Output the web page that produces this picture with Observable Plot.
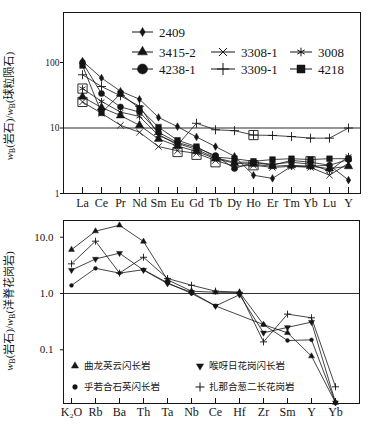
<!DOCTYPE html>
<html><head><meta charset="utf-8">
<script src="https://cdn.jsdelivr.net/npm/d3@7"></script>
<script src="https://cdn.jsdelivr.net/npm/@observablehq/plot@0.6"></script>
<style>
html,body{margin:0;padding:0;background:#fff}
#c{width:377px;height:432px}
#c svg{display:block}
</style>
</head><body><div id="c"></div>
<script>
// ---------- Data: REE chondrite-normalised (top panel) ----------
const reeElements = ["La","Ce","Pr","Nd","Sm","Eu","Gd","Tb","Dy","Ho","Er","Tm","Yb","Lu","Y"];
const reeSeries = ["2409","3415-2","3308-1","3008","4238-1","3309-1","4218"];
const ree2409   = [105, 58, 36.5, 27.5, 14.5, 10.5, 7.3, 5.2, 3.7, 1.9, 1.7, 2.6, 2.6, 2.7, 1.6];
const ree3415_2 = [30, 20.5, 15.5, 11, 6.8, 5.3, 4.4, 3.4, 2.9, 2.8, 2.6, 2.7, 2.6, 2.4, 2.6];
const ree3308_1 = [25, 16.8, 11, 8.6, 5.2, 4.5, 4.1, 3.2, 2.6, 2.7, 2.5, 2.6, 2.5, 1.9, 2.9];
const ree3008   = [40, 25.5, 17.5, 15, 7.7, 5.8, 4.7, 3.5, 3.0, 3.0, 2.8, 3.0, 2.8, 2.2, 3.7];
const ree4238_1 = [100, 33.5, 21, 17.5, 8.6, 6.0, 5.0, 3.8, 2.4, 3.0, 2.7, 3.2, 3.0, 2.7, 3.3];
const ree3309_1 = [65, 43, 31, 21.5, 8.0, 5.5, 11.8, 9.4, 9.1, 7.8, 7.7, 7.4, 7.0, 7.0, 10];
const ree4218   = [90, 17, 33.5, 20, 10.3, 6.5, 5.2, 3.6, 3.4, 3.1, 3.3, 3.4, 3.3, 3.4, 3.4];
const boxedElements = ["La","La","Eu","Gd","Tb","Ho","Ho","Yb"];
const boxedValues   = [40, 25, 4.3, 3.9, 3.0, 7.8, 2.7, 3.1];
const reeTicks = [1, 10, 100];
const reeRefLine = [10];

// ---------- Data: ORG-normalised (bottom panel) ----------
const orgElements = ["K₂O","Rb","Ba","Th","Ta","Nb","Ce","Hf","Zr","Sm","Y","Yb"];
const orgSeries = ["曲龙英云闪长岩","喉呀日花岗闪长岩","乎若合石英闪长岩","扎那合葱二长花岗岩"];
const orgQulong  = [6.0, 12.8, 16.3, 8.4, 1.75, 1.1, 1.05, 1.05, 0.28, 0.2, 0.077, 0.0115];
const orgHouyari = [2.6, 4.1, 5.2, 2.6, 1.5, 1.05, 0.6, 0.95, 0.2, 0.25, 0.31, 0.0115];
const orgHuruohe = [1.39, 2.8, 2.3, 2.65, 1.55, 1.0, 0.6, null, 0.28, 0.146, 0.15, 0.0115];
const orgZhanahe = [3.36, 8.5, 2.3, 4.4, 1.85, 1.4, 1.1, 1.05, 0.138, 0.43, 0.37, 0.022];
const orgTicks = [10, 1, 0.1];
const orgTickLabels = ["10.0", "1.0", "0.1"];
const orgRefLine = [1];

// ---------- tables built from the arrays ----------
const reeValues = [ree2409, ree3415_2, ree3308_1, ree3008, ree4238_1, ree3309_1, ree4218];
const reeData = reeSeries.flatMap((s, i) => reeElements.map((el, j) => ({s, el, v: reeValues[i][j]})));
const boxData = boxedElements.map((el, i) => ({el, v: boxedValues[i]}));
const orgValues = [orgQulong, orgHouyari, orgHuruohe, orgZhanahe];
const orgData = orgSeries.flatMap((s, i) => orgElements.map((el, j) => ({s, el, v: orgValues[i][j]}))).filter(d => d.v != null);

// ---------- styles ----------
const INK = "#151515";
const SERIF = "'Liberation Serif','Times New Roman',serif";
const CJK = "'Noto Sans CJK SC',sans-serif";
const triangleDown = {
  draw(context, size) {
    const y = -Math.sqrt(size / (Math.sqrt(3) * 3));
    context.moveTo(0, -2 * y);
    context.lineTo(-Math.sqrt(3) * y, y);
    context.lineTo(Math.sqrt(3) * y, y);
    context.closePath();
  }
};
const reeStyle = {
  "2409":   {sym: "diamond",  r: 2.3, filled: true,  lsize: 24},
  "3415-2": {sym: "triangle", r: 3.1, filled: true,  lsize: 42},
  "3308-1": {sym: "times",    r: 3.0, filled: false, lsize: 44},
  "3008":   {sym: "asterisk", r: 3.2, filled: false, lsize: 52},
  "4238-1": {sym: "circle",   r: 3.0, filled: true,  lsize: 80},
  "3309-1": {sym: "plus",     r: 3.0, filled: false, lsize: 50},
  "4218":   {sym: "square",   r: 3.2, filled: true,  lsize: 64}
};
const orgStyle = {
  "曲龙英云闪长岩":   {sym: "triangle",   r: 2.2, filled: true,  lsize: 22},
  "喉呀日花岗闪长岩": {sym: triangleDown, r: 2.2, filled: true,  lsize: 22},
  "乎若合石英闪长岩": {sym: "circle",     r: 1.9, filled: true,  lsize: 18},
  "扎那合葱二长花岗岩": {sym: "plus",     r: 2.4, filled: false, lsize: 28}
};
const d3sym = {diamond: d3.symbolDiamond, triangle: d3.symbolTriangle, times: d3.symbolTimes,
  asterisk: d3.symbolAsterisk, circle: d3.symbolCircle, plus: d3.symbolPlus, square: d3.symbolSquare};

function dotMarks(data, series, style) {
  return series.map(s => {
    const st = style[s];
    return Plot.dot(data.filter(d => d.s === s), {
      x: "el", y: "v", symbol: st.sym, r: st.r,
      fill: st.filled ? INK : "none", stroke: INK, strokeWidth: st.filled ? 0.5 : 0.9
    });
  });
}

// ---------- top panel ----------
const topPlot = Plot.plot({
  width: 377, height: 216,
  marginLeft: 63, marginRight: 17, marginTop: 12, marginBottom: 23,
  style: {fontFamily: SERIF, fontSize: "12px", color: INK, background: "white"},
  x: {type: "point", domain: reeElements, range: [76, 353], padding: 0},
  y: {type: "log", domain: [1, 580], range: [193, 12]},
  marks: [
    Plot.frame({stroke: INK, strokeWidth: 1}),
    Plot.ruleY(reeRefLine, {stroke: INK, strokeWidth: 0.9}),
    Plot.ruleX(reeElements, {x: d => d, insetTop: 175, stroke: INK}),
    Plot.axisX({tickSize: 0, tickPadding: 5, fontSize: 12, label: null}),
    Plot.axisY({ticks: reeTicks, tickFormat: d => String(d), tickSize: 3, tickPadding: 1, fontSize: 9.5, label: null}),
    Plot.line(reeData, {x: "el", y: "v", z: "s", stroke: INK, strokeWidth: 0.8}),
    ...dotMarks(reeData, reeSeries, reeStyle),
    Plot.dot(boxData, {x: "el", y: "v", symbol: "square", r: 5.2, fill: "none", stroke: INK, strokeWidth: 0.9})
  ]
});

// ---------- bottom panel ----------
const botPlot = Plot.plot({
  width: 377, height: 216,
  marginLeft: 63, marginRight: 18, marginTop: 4, marginBottom: 29,
  style: {fontFamily: SERIF, fontSize: "12px", color: INK, background: "white"},
  x: {type: "point", domain: orgElements, range: [70, 336.7], padding: 0},
  y: {type: "log", domain: [0.0111, 19.8], range: [187, 4]},
  marks: [
    Plot.frame({stroke: INK, strokeWidth: 1}),
    Plot.ruleY(orgRefLine, {stroke: INK, strokeWidth: 0.9}),
    Plot.ruleX(orgElements, {x: d => d, insetTop: 178, stroke: INK}),
    Plot.axisX({tickSize: 0, tickPadding: 4, fontSize: 12, label: null}),
    Plot.axisY({ticks: orgTicks, tickFormat: d => orgTickLabels[orgTicks.indexOf(d)], tickSize: 3, tickPadding: 7, fontSize: 11, label: null}),
    Plot.line(orgData, {x: "el", y: "v", z: "s", stroke: INK, strokeWidth: 0.8}),
    ...dotMarks(orgData, orgSeries, orgStyle)
  ]
});

// ---------- y-axis titles with subscripts ----------
function yTitle(svg, cy, rock) {
  const t = d3.select(svg).append("text")
    .attr("transform", `translate(13,${cy}) rotate(-90)`)
    .attr("text-anchor", "middle")
    .attr("fill", INK)
    .style("font-family", `${SERIF.split(",")[0]},${CJK}`)
    .style("font-size", "11px");
  t.append("tspan").attr("font-style", "italic").text("w");
  t.append("tspan").attr("font-size", "7.5px").attr("dy", 2).text("B");
  t.append("tspan").attr("dy", -2).text("(岩石)/");
  t.append("tspan").attr("font-style", "italic").text("w");
  t.append("tspan").attr("font-size", "7.5px").attr("dy", 2).text("B");
  t.append("tspan").attr("dy", -2).text(`(${rock})`);
}
yTitle(topPlot, 106, "球粒陨石");
yTitle(botPlot, 95, "洋脊花岗岩");

// ---------- legends ----------
function legendEntry(svg, x, lineLen, y, name, style, font, textGap, withLine) {
  const g = d3.select(svg).append("g").attr("text-anchor", "start");
  const st = style[name];
  const cx = withLine ? x + lineLen / 2 : x;
  if (withLine) g.append("line").attr("x1", x).attr("x2", x + lineLen).attr("y1", y).attr("y2", y)
    .attr("stroke", INK).attr("stroke-width", 1);
  const type = typeof st.sym === "string" ? d3sym[st.sym] : st.sym;
  g.append("path").attr("transform", `translate(${cx},${y})`)
    .attr("d", d3.symbol().type(type).size(st.lsize)())
    .attr("fill", st.filled ? INK : "none").attr("stroke", INK).attr("stroke-width", st.filled ? 0.5 : 1);
  g.append("text").attr("x", (withLine ? x + lineLen : x) + textGap).attr("y", y).attr("dy", "0.35em")
    .attr("text-anchor", "start")
    .attr("fill", INK).style("font-family", font.family).style("font-size", font.size).text(name);
}
const topCols = [[132, 21], [211, 24], [290, 22]];
const topRows = [32, 52, 69];
const topLayout = [[reeSeries[0]], [reeSeries[1], reeSeries[2], reeSeries[3]], [reeSeries[4], reeSeries[5], reeSeries[6]]];
topLayout.forEach((row, ri) => row.forEach((s, ci) =>
  legendEntry(topPlot, topCols[ci][0], topCols[ci][1], topRows[ri], s, reeStyle, {family: SERIF, size: "13px"}, 6, true)));

const botCols = [75, 200];
const botRows = [150, 171];
const botLayout = [[orgSeries[0], orgSeries[1]], [orgSeries[2], orgSeries[3]]];
botLayout.forEach((row, ri) => row.forEach((s, ci) =>
  legendEntry(botPlot, botCols[ci], 0, botRows[ri], s, orgStyle, {family: CJK, size: "9.5px"}, 9, false)));

document.getElementById("c").append(topPlot, botPlot);
</script>
</body></html>
